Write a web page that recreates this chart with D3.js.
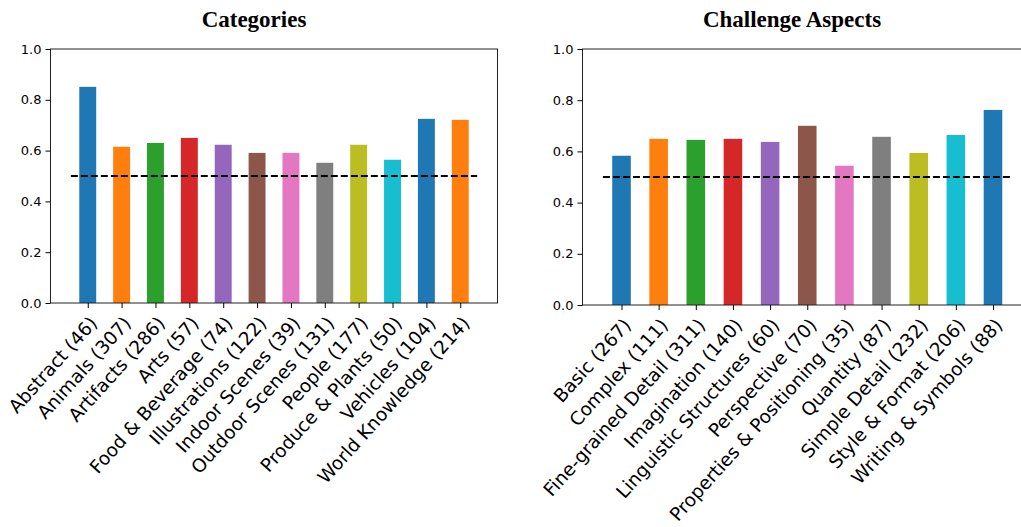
<!DOCTYPE html>
<html>
<head>
<meta charset="utf-8">
<script src="https://cdn.jsdelivr.net/npm/d3@7"></script>
<style>
  body { margin: 0; background: #fff; }
  svg text { font-family: "DejaVu Sans", sans-serif; fill: #000; }
  .title { font-family: "Liberation Serif", "Times New Roman", serif; font-weight: bold; }
</style>
</head>
<body>
<svg id="chart" width="1021" height="527"></svg>
<script>
// 카테고리 데이터
var categoryNames = ["Abstract (46)", "Animals (307)", "Artifacts (286)", "Arts (57)", "Food & Beverage (74)",
  "Illustrations (122)", "Indoor Scenes (39)", "Outdoor Scenes (131)", "People (177)",
  "Produce & Plants (50)", "Vehicles (104)", "World Knowledge (214)"];
var categoryValues = [0.851, 0.615, 0.630, 0.650, 0.623, 0.591, 0.591, 0.552, 0.623, 0.564, 0.725, 0.721];

// 도전 측면 데이터
var aspectNames = ["Basic (267)", "Complex (111)", "Fine-grained Detail (311)", "Imagination (140)",
  "Linguistic Structures (60)", "Perspective (70)", "Properties & Positioning (35)", "Quantity (87)",
  "Simple Detail (232)", "Style & Format (206)", "Writing & Symbols (88)"];
var aspectValues = [0.583, 0.649, 0.645, 0.649, 0.637, 0.700, 0.544, 0.657, 0.594, 0.664, 0.762];

// 축 눈금, 기준선
var yTicks = [0.0, 0.2, 0.4, 0.6, 0.8, 1.0];
var chanceLevel = 0.5;

var color = d3.scaleOrdinal(d3.schemeCategory10);

var svg = d3.select("#chart");

var drawPanel = function(opt){
  var n = opt.names.length;
  var pad = 0.05 * n;

  var x = d3.scaleLinear()
            .domain([-0.5 - pad, n - 0.5 + pad])
            .range([opt.left, opt.right]);

  var y = d3.scaleLinear()
            .domain([0, 1])
            .range([opt.bottom, opt.top]);

  var g = svg.append("g");

  // 막대
  g.selectAll(".bar")
   .data(opt.values)
   .enter()
   .append("rect")
   .attr("class", "bar")
   .attr("x", function(d, i) { return x(i - 0.25); })
   .attr("width", function(d, i) { return x(i + 0.25) - x(i - 0.25); })
   .attr("y", function(d) { return y(d); })
   .attr("height", function(d) { return y(0) - y(d); })
   .attr("fill", function(d, i) { return color(i % 10); });

  // 기준선 (0.5)
  g.append("line")
   .attr("x1", x(-0.5))
   .attr("x2", x(n - 0.5))
   .attr("y1", y(chanceLevel))
   .attr("y2", y(chanceLevel))
   .attr("stroke", "#000")
   .attr("stroke-width", 2)
   .attr("stroke-dasharray", "7,3");

  // 테두리
  g.append("rect")
   .attr("x", opt.left)
   .attr("y", opt.top)
   .attr("width", opt.right - opt.left)
   .attr("height", opt.bottom - opt.top)
   .attr("fill", "none")
   .attr("stroke", "#222")
   .attr("stroke-width", 1);

  // y축
  var yAxis = g.append("g")
    .attr("transform", "translate(" + opt.left + ",0)")
    .call(d3.axisLeft(y).tickValues(yTicks).tickFormat(d3.format(".1f")).tickSize(5).tickPadding(4));
  yAxis.select(".domain").remove();
  yAxis.selectAll("text").style("font-size", "13px").attr("fill", "#000");

  // x축
  var xAxis = g.append("g")
    .attr("transform", "translate(0," + opt.bottom + ")")
    .call(d3.axisBottom(x).tickValues(d3.range(n)).tickSize(5).tickFormat(function(d) { return opt.names[d]; }));
  xAxis.select(".domain").remove();
  xAxis.selectAll("text")
       .style("font-size", "18.5px")
       .attr("fill", "#000")
       .attr("text-anchor", "end")
       .attr("dy", null)
       .attr("y", 0)
       .attr("transform", "translate(10,21) rotate(-48)");

  // 제목
  svg.append("text")
     .attr("class", "title")
     .attr("x", opt.titleX)
     .attr("y", 27)
     .attr("text-anchor", "middle")
     .style("font-size", "23px")
     .text(opt.title);
};

drawPanel({ names: categoryNames, values: categoryValues, title: "Categories",
  left: 50.5, right: 497.5, top: 49, bottom: 303, titleX: 254 });

drawPanel({ names: aspectNames, values: aspectValues, title: "Challenge Aspects",
  left: 582.5, right: 1032, top: 49, bottom: 305, titleX: 792 });
</script>
</body>
</html>
